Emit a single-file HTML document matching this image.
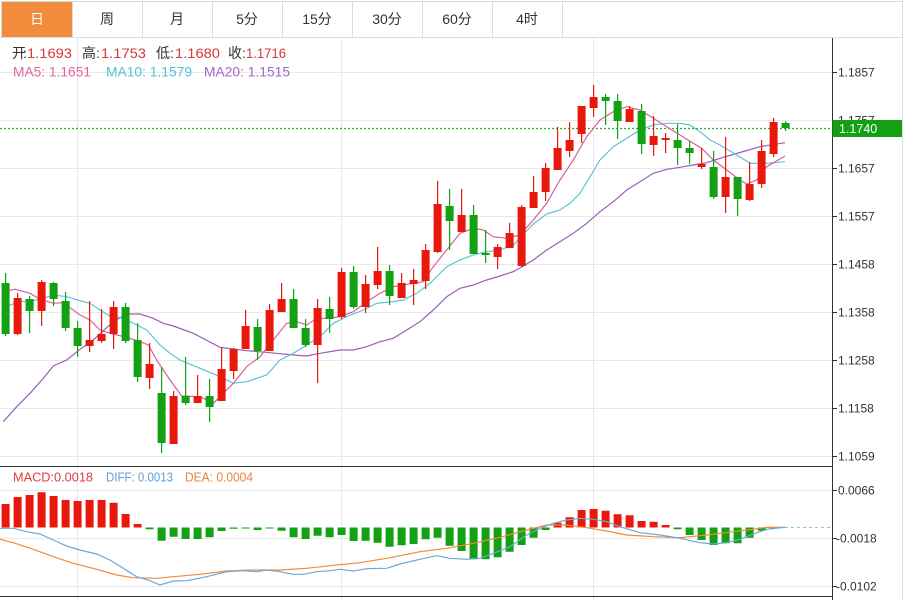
<!DOCTYPE html>
<html><head><meta charset="utf-8"><style>
html,body{margin:0;padding:0;background:#fff;}
svg{display:block;font-family:"Liberation Sans","Noto Sans CJK SC",sans-serif;}
</style></head><body>
<svg width="917" height="600" viewBox="0 0 917 600" xmlns="http://www.w3.org/2000/svg">
<rect width="917" height="600" fill="#fff"/>
<rect x="2" y="2" width="70" height="35" fill="#f28b3c"/>
<g stroke="#dcdcdc" stroke-width="1" fill="none">
<path d="M0 1.5H902.5M0 37.5H902.5M902.5 0V600M1.5 1.5V37.5"/>
<path d="M72.5 2V37M142.5 2V37M212.5 2V37M282.5 2V37M352.5 2V37M422.5 2V37M492.5 2V37M562.5 2V37"/>
</g>
<g font-size="14" text-anchor="middle" fill="#333">
<text x="37" y="24" fill="#fff">日</text>
<text x="107" y="24">周</text>
<text x="177" y="24">月</text>
<text x="247" y="24">5分</text>
<text x="317" y="24">15分</text>
<text x="387" y="24">30分</text>
<text x="457" y="24">60分</text>
<text x="527" y="24">4时</text>
</g>
<g stroke="#e8e8e8" stroke-width="1" fill="none">
<path d="M0 72.5H832M0 120.5H832M0 168.5H832M0 216.5H832M0 264.5H832M0 312.5H832M0 360.5H832M0 408.5H832M0 456.5H832"/>
<path d="M0 490.5H832M0 538.5H832M0 586.5H832"/>
<path d="M77.5 38V600M341.5 38V600M593.5 38V600"/>
</g>
<g stroke="#333" stroke-width="1" fill="none">
<path d="M832.5 38V600"/>
<path d="M0 466.5H832.5M0 596.5H832.5"/>
<path d="M832 72.5H837M832 120.5H837M832 168.5H837M832 216.5H837M832 264.5H837M832 312.5H837M832 360.5H837M832 408.5H837M832 456.5H837"/>
<path d="M832 490.5H837M832 538.5H837M832 586.5H837"/>
</g>
<g font-size="12" fill="#333">
<text x="838" y="76.5">1.1857</text>
<text x="838" y="124.5">1.1757</text>
<text x="838" y="172.5">1.1657</text>
<text x="838" y="220.5">1.1557</text>
<text x="838" y="268.5">1.1458</text>
<text x="838" y="316.5">1.1358</text>
<text x="838" y="364.5">1.1258</text>
<text x="838" y="412.5">1.1158</text>
<text x="838" y="460.5">1.1059</text>
<text x="838" y="494.5">0.0066</text>
<text x="836" y="542.5">-0.0018</text>
<text x="836" y="590.5">-0.0102</text>
</g>
<path d="M0 128.5H832" stroke="#2fa82f" stroke-width="1.2" stroke-dasharray="2 2"/>
<rect x="832.5" y="120" width="69.5" height="17" fill="#13a013"/>
<text x="839" y="133" font-size="12.5" fill="#fff">1.1740</text>
<polyline fill="none" stroke="#9b5eb8" stroke-width="1.2" points="3.3,421.7 16.7,406.7 30,393.3 43.3,378.3 53.3,366 66.7,360 80,349.3 93.3,340 103.3,330.7 113.3,321.7 126.7,314 140,314 153.3,318.3 163.3,323.3 173.3,326 193.3,333.3 220,347.3 246.7,350.7 270,352.7 293.3,355 306.7,356 320,353.3 340,350 353.3,350 366.7,346.7 380,341.7 393.3,338.3 406.7,330 420,321.7 433.3,310 446.7,296.7 460,288.3 473.3,285 486.7,280 500,276 513.3,271.7 520,268 533.3,260 546.7,250 560,241.7 573.3,233.3 586.7,223.3 600,211.7 613.3,201.7 626.7,190 640,181.7 653.3,173.3 666.7,169.3 680,167.3 693.3,165 706.7,162.7 720,158.3 740,152.5 760,146.7 785,142.7"/>
<polyline fill="none" stroke="#5cc3d8" stroke-width="1.2" points="3.3,311.7 10,305 20,301.7 33.3,300.7 43.3,298.3 53.3,295 66.7,296.7 80,300.7 90,303.3 100,310 110,316 120,317.3 133.3,323.3 146.7,330 160,345 170,353.3 180,360 200,368.3 220,376.7 233.3,383.3 246.7,381.7 266.7,375 280,360 293.3,353.3 306.7,345 320,336.7 333.3,323.3 346.7,316.7 363.3,310 376.7,303.3 393.3,301.7 403.3,300 416.7,293.3 430,283.3 446.7,266.7 460,260 473.3,255 486.7,251.7 500,250 513.3,245 520,238 533.3,224 546.7,214 560,210 570,203.3 580,193.3 590,176.7 600,160 613.3,146.7 626.7,138.3 640,130 653.3,125 666.7,123.3 680,123.3 690,125 700,131.7 710,140 720,145 736.7,155 750,163.3 766.7,163.3 785,161.7"/>
<polyline fill="none" stroke="#d9609a" stroke-width="1.2" points="3.3,291.7 15,289.3 30,293.3 40,299.3 53.3,303.3 63.3,302.7 80,315 90,320 100,330 110,333.3 126.7,337.3 140,341.7 148.3,345 156.7,360 170,380 181.7,396 200,396.7 213.3,403.3 233.3,383.3 246.7,366.7 260,356.7 273.3,340 286.7,323.3 296.7,321.7 306.7,325 316.7,318.3 330,318.3 340,316.7 353.3,311.7 366.7,301.7 380,293.3 393.3,286.7 413.3,283.3 423.3,281.7 433.3,266.7 446.7,250 460,233.3 473.3,228.3 483.3,230 493.3,236.7 506.7,238.3 520,235 533.3,220 546.7,203.3 560,180 573.3,160 586.7,136.7 600,120 613.3,111.7 626.7,106.7 640,110 653.3,118.3 666.7,126.7 680,135 693.3,143.3 701.7,148.3 713.3,160 726.7,170 740,180 746.7,184 756.7,180 766.7,166.7 785,156"/>
<path stroke="#e8180c" stroke-width="1.2" fill="none" d="M17.6 293V335M41.6 280V326M89.6 301V352M101.6 309V343M113.6 301V349M149.6 343V389M173.6 391V444M197.6 375V403M221.6 347V401M233.6 348V379M245.6 310V349M269.6 304V351M281.6 283V312M317.6 299V383M341.6 268V319M365.6 275V313M377.6 247V289M401.6 273V298M413.6 269V305M425.6 244V289M437.6 181V253M461.6 189V232M497.6 244V269M509.6 223V248M521.6 205V267M533.6 176V208M545.6 163V201M557.6 127V170M569.6 122V157M581.6 106V143M593.6 85V117M629.6 106V122M653.6 116V156M665.6 133V153M701.6 148V169M725.6 137V213M749.6 162V201M761.6 140V188M773.6 118V157"/>
<path stroke="#13a013" stroke-width="1.2" fill="none" d="M5.6 273V336M29.6 296V333M53.6 282V306M65.6 292V331M77.6 321V357M125.6 303V343M137.6 323V382M161.6 367V453M185.6 357V405M209.6 379V422M257.6 319V360M293.6 289V328M305.6 319V347M329.6 297V333M353.6 266V309M389.6 265V305M449.6 189V250M473.6 205V254M485.6 230V263M605.6 94V125M617.6 94V139M641.6 104V154M677.6 124V165M689.6 141V164M713.6 151V199M737.6 177V216M785.6 121V131"/>
<path stroke="#e8180c" stroke-width="8" fill="none" d="M17.6 298V334M41.6 282V311M89.6 340V346M101.6 334V341M113.6 307V334M149.6 364V378M173.6 396V444M197.6 396V403M221.6 369V401M233.6 349V371M245.6 326V349M269.6 310V351M281.6 299V312M317.6 308V345M341.6 272V317M365.6 284V307M377.6 271V285M401.6 283V298M413.6 280V284M425.6 250V281M437.6 204V252M461.6 215V232M497.6 247V257M509.6 233V248M521.6 207V266M533.6 192V208M545.6 168V192M557.6 148V170M569.6 140V151M581.6 106V134M593.6 97V108M629.6 109V122M653.6 136V145M665.6 138V140M701.6 164V167M725.6 177V197M749.6 184V200M761.6 151V184M773.6 122V154"/>
<path stroke="#13a013" stroke-width="8" fill="none" d="M5.6 283V334M29.6 299V311M53.6 283V299M65.6 301V328M77.6 328V346M125.6 307V341M137.6 340V377M161.6 393V443M185.6 396V403M209.6 396V407M257.6 327V351M293.6 299V328M305.6 328V345M329.6 309V319M353.6 272V307M389.6 271V296M449.6 206V221M473.6 215V254M485.6 253V255M605.6 97V101M617.6 101V121M641.6 111V144M677.6 140V148M689.6 148V153M713.6 167V197M737.6 177V199M785.6 123V128"/>
<g font-size="14">
<text x="12" y="58" fill="#333">开</text><text x="23" y="58" fill="#333">:</text>
<text x="27" y="58" fill="#d23a3a" textLength="45" lengthAdjust="spacingAndGlyphs">1.1693</text>
<text x="82" y="58" fill="#333">高</text><text x="96" y="58" fill="#333">:</text>
<text x="101" y="58" fill="#d23a3a" textLength="45" lengthAdjust="spacingAndGlyphs">1.1753</text>
<text x="156" y="58" fill="#333">低</text><text x="170" y="58" fill="#333">:</text>
<text x="175" y="58" fill="#d23a3a" textLength="45" lengthAdjust="spacingAndGlyphs">1.1680</text>
<text x="228" y="58" fill="#333">收</text><text x="242" y="58" fill="#333">:</text>
<text x="246" y="58" fill="#d23a3a" textLength="40" lengthAdjust="spacingAndGlyphs">1.1716</text>
<text x="13" y="76.5" fill="#e0649e" textLength="78" lengthAdjust="spacingAndGlyphs">MA5: 1.1651</text>
<text x="106" y="76.5" fill="#4fc1d6" textLength="86" lengthAdjust="spacingAndGlyphs">MA10: 1.1579</text>
<text x="204" y="76.5" fill="#a067c2" textLength="86" lengthAdjust="spacingAndGlyphs">MA20: 1.1515</text>
</g>
<path d="M785 527.5H832" stroke="#8cc4e0" stroke-width="1" stroke-dasharray="3 3"/>
<path stroke="#e8180c" stroke-width="8" fill="none" d="M5.6 504V527.5M17.6 497V527.5M29.6 495V527.5M41.6 492.3V527.5M53.6 496V527.5M65.6 500V527.5M77.6 501V527.5M89.6 500V527.5M101.6 500V527.5M113.6 502.7V527.5M125.6 514V527.5M137.6 524V527.5M557.6 522.7V527.5M569.6 517.3V527.5M581.6 510V527.5M593.6 509V527.5M605.6 510.7V527.5M617.6 514.3V527.5M629.6 515.3V527.5M641.6 521V527.5M653.6 521.7V527.5M665.6 525V527.5"/>
<path stroke="#13a013" stroke-width="8" fill="none" d="M149.6 527.5V529.3M161.6 527.5V540.7M173.6 527.5V536.7M185.6 527.5V539M197.6 527.5V539M209.6 527.5V537.3M221.6 527.5V531M233.6 527.5V528.7M245.6 527.5V528.5M257.6 527.5V530M269.6 527.5V528.5M281.6 527.5V530.7M293.6 527.5V537.3M305.6 527.5V539M317.6 527.5V535.7M329.6 527.5V537.3M341.6 527.5V535M353.6 527.5V541M365.6 527.5V540.7M377.6 527.5V542.7M389.6 527.5V546.7M401.6 527.5V545.3M413.6 527.5V544M425.6 527.5V539.3M437.6 527.5V537.7M449.6 527.5V545.7M461.6 527.5V551M473.6 527.5V559.3M485.6 527.5V559.3M497.6 527.5V557.3M509.6 527.5V551.7M521.6 527.5V545M533.6 527.5V537.7M545.6 527.5V530M677.6 527.5V529.3M689.6 527.5V535M701.6 527.5V540M713.6 527.5V545M725.6 527.5V543.3M737.6 527.5V543.3M749.6 527.5V537.7M761.6 527.5V530.7M773.6 527.5V528.5"/>
<polyline fill="none" stroke="#f08a3c" stroke-width="1.2" points="0,539.3 13.3,542.7 33.3,549.3 53.3,556.7 73.3,563.3 96.7,569.3 116.7,575 133.3,577.7 156.7,578.3 173.3,576.7 200,574.3 226.7,571 253.3,570 280,570 306.7,568.3 333.3,565.3 360,562.7 386.7,558.3 420,551.7 446.7,548.3 473.3,543.3 500,537.3 526.7,530 546.7,525 566.7,525 586.7,527.7 606.7,531 626.7,535 653.3,536.7 680,537.7 706.7,535 733.3,531.7 753.3,529.3 766.7,527.3 785,527.3"/>
<polyline fill="none" stroke="#6aa8dc" stroke-width="1.2" points="0,528.3 13.3,528.3 26.7,531.7 40,534 53.3,540 66.7,546 80,550 96.7,554 110,560 123.3,568.3 136.7,576.7 150,580.7 160,585 173.3,581 186.7,580.7 206.7,576.7 226.7,571.7 243.3,570.7 256.7,571.7 266.7,570 280,571.7 293.3,574.3 303.3,574.3 316.7,571.7 330,570.7 340,569.3 353.3,571 366.7,568.7 386.7,568.3 400,564 420,559.3 436.7,555.7 450,558.3 466.7,559.3 480,558.3 493.3,553.3 510,546.7 526.7,535 540,528.3 553.3,523.3 566.7,520 580,518.3 593.3,519.3 606.7,521.7 620,526.7 640,532.7 660,535 680,538.3 700,542.7 713.3,544 726.7,542.7 740,539.3 753.3,534 766.7,529.3 785,527.3"/>
<g font-size="13">
<text x="13" y="481.5" fill="#e03c3c" textLength="80" lengthAdjust="spacingAndGlyphs">MACD:0.0018</text>
<text x="106" y="481.5" fill="#5b9fd8" textLength="67" lengthAdjust="spacingAndGlyphs">DIFF: 0.0013</text>
<text x="185" y="481.5" fill="#e8843c" textLength="68" lengthAdjust="spacingAndGlyphs">DEA: 0.0004</text>
</g>
</svg>
</body></html>
